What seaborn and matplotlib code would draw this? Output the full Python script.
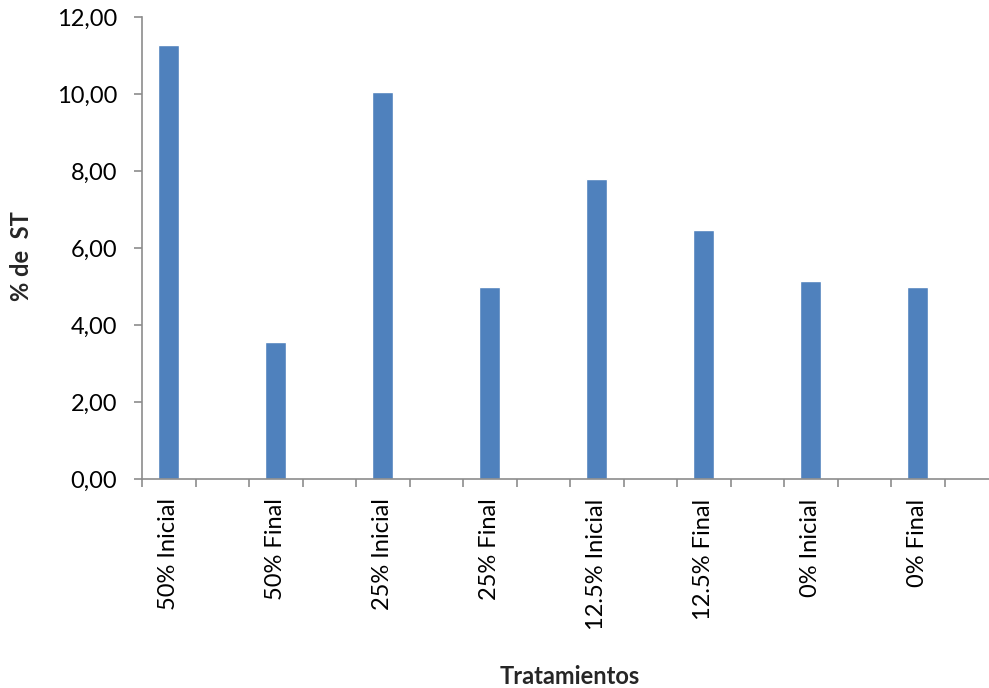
import matplotlib
matplotlib.use("Agg")
import matplotlib.pyplot as plt
import seaborn as sns
import pandas as pd
from matplotlib.ticker import FixedLocator, FuncFormatter

categories = ["50% Inicial", "50% Final", "25% Inicial", "25% Final",
              "12.5% Inicial", "12.5% Final", "0% Inicial", "0% Final"]
values = [11.28, 3.55, 10.05, 5.00, 7.80, 6.48, 5.15, 4.99]
y_ticks = [0, 2, 4, 6, 8, 10, 12]

sns.set_theme(style="white")
plt.rcParams["font.family"] = ["Lato", "DejaVu Sans"]

df = pd.DataFrame({"Tratamiento": categories, "ST": values})

fig = plt.figure(figsize=(9.89, 6.88), dpi=100)
ax_h = (479 - 17) / 688
ax_w = (998 - 142) / 989
ax = fig.add_axes([142 / 989, (688 - 479) / 688, ax_w, ax_h])

sns.barplot(data=df, x="Tratamiento", y="ST", order=categories,
            color="#4f81bd", saturation=1, width=0.2, ax=ax)

ax.set_xlim(-0.25, len(categories) - 0.25)
ax.set_ylim(0, 12)
ax.set_yticks(y_ticks)
ax.yaxis.set_major_formatter(FuncFormatter(lambda v, p: f"{v:.2f}".replace(".", ",")))

ax.set_xticks(range(len(categories)))
ax.set_xticklabels(categories, rotation=90)
ax.xaxis.set_minor_locator(FixedLocator([k - 0.25 for k in range(len(categories) + 1)] +
                                        [k + 0.25 for k in range(len(categories))]))
ax.tick_params(axis="x", which="major", length=0, pad=14, labelsize=17, colors="black")
ax.tick_params(axis="x", which="minor", length=6, width=1.2, color="#8c8c8c", direction="out")
ax.tick_params(axis="y", which="major", length=6, width=1.2, color="#8c8c8c",
               direction="out", labelsize=17, pad=12, labelcolor="black")
ax.xaxis.set_tick_params(which="minor", bottom=True)
ax.yaxis.set_tick_params(left=True)

for side in ("top", "right"):
    ax.spines[side].set_visible(False)
for side in ("left", "bottom"):
    ax.spines[side].set_color("#8c8c8c")
    ax.spines[side].set_linewidth(1.2)

ax.set_xlabel("Tratamientos", fontsize=17, fontweight="bold")
ax.set_ylabel("% de  ST", fontsize=17, fontweight="bold")
# place axis titles in pixel terms relative to the axes box
ax.xaxis.set_label_coords((570 - 142) / (998 - 142), -(665 - 479) / (479 - 17))
ax.yaxis.set_label_coords(-(142 - 33) / (998 - 142), (479 - 256) / (479 - 17))

fig.savefig("out.png", dpi=100)
